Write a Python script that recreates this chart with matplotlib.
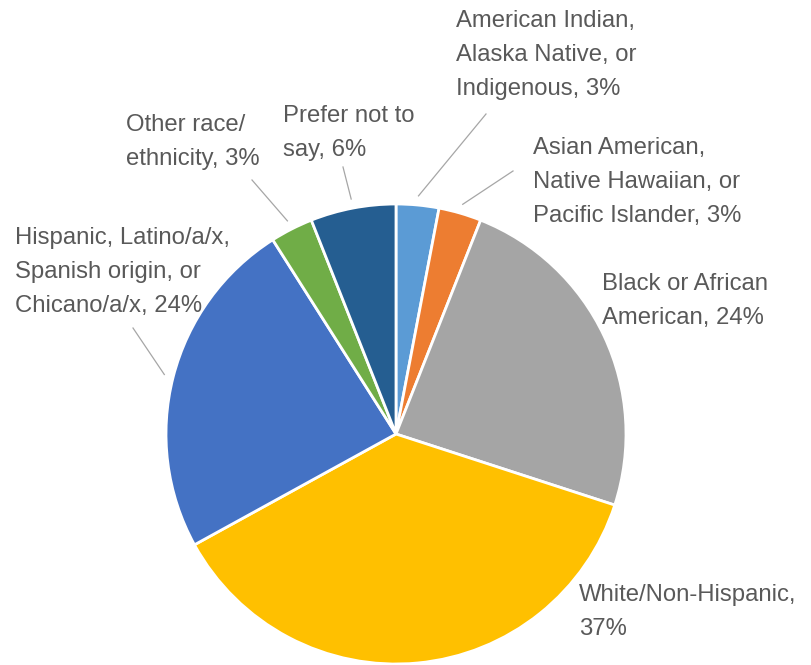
import matplotlib
matplotlib.use("Agg")
import matplotlib.pyplot as plt
import numpy as np

# data
groups = ["American Indian, Alaska Native, or Indigenous",
          "Asian American, Native Hawaiian, or Pacific Islander",
          "Black or African American",
          "White/Non-Hispanic",
          "Hispanic, Latino/a/x, Spanish origin, or Chicano/a/x",
          "Other race/ethnicity",
          "Prefer not to say"]
shares = [3, 3, 24, 37, 24, 3, 6]
label_lines = [["American Indian,", "Alaska Native, or", "Indigenous, 3%"],
               ["Asian American,", "Native Hawaiian, or", "Pacific Islander, 3%"],
               ["Black or African", "American, 24%"],
               ["White/Non-Hispanic,", "37%"],
               ["Hispanic, Latino/a/x,", "Spanish origin, or", "Chicano/a/x, 24%"],
               ["Other race/", "ethnicity, 3%"],
               ["Prefer not to", "say, 6%"]]
colors = ["#5B9BD5", "#ED7D31", "#A5A5A5", "#FFC000", "#4472C4", "#70AD47", "#255E91"]

# layout (pixel coords, y measured from top)
W, H = 812, 665
cx, cy, R = 396, 434, 230
label_pos = [(456, 27), (533, 154), (602, 290), (579, 601), (15, 244), (126, 131), (283, 122)]
leader_start = [(486, 114), (513, 171), None, None, (133, 328), (252, 180), (343, 167)]
line_gap = 34

plt.rcParams['font.family'] = ['Liberation Sans', 'DejaVu Sans']

fig = plt.figure(figsize=(W / 100, H / 100), dpi=100)
ax = fig.add_axes([0, 0, 1, 1])

wedges, _ = ax.pie(shares, colors=colors, startangle=90, counterclock=False,
                   center=(cx, H - cy), radius=R,
                   wedgeprops=dict(edgecolor='white', linewidth=2))

ax.set_xlim(0, W)
ax.set_ylim(0, H)
ax.set_aspect('equal')
ax.axis('off')

# labels, one baseline per line
for lines, (lx, ly) in zip(label_lines, label_pos):
    for i, s in enumerate(lines):
        ax.text(lx, H - (ly + i * line_gap), s, fontsize=17.2, color='#595959',
                ha='left', va='baseline')

# leader lines to wedge middles
for w, start in zip(wedges, leader_start):
    if start is None:
        continue
    mid = np.deg2rad((w.theta1 + w.theta2) / 2)
    ex = cx + R * 1.04 * np.cos(mid)
    ey = (H - cy) + R * 1.04 * np.sin(mid)
    ax.plot([start[0], ex], [H - start[1], ey], color='#A6A6A6', linewidth=0.9)

fig.savefig("out.png", dpi=100, facecolor='white')
